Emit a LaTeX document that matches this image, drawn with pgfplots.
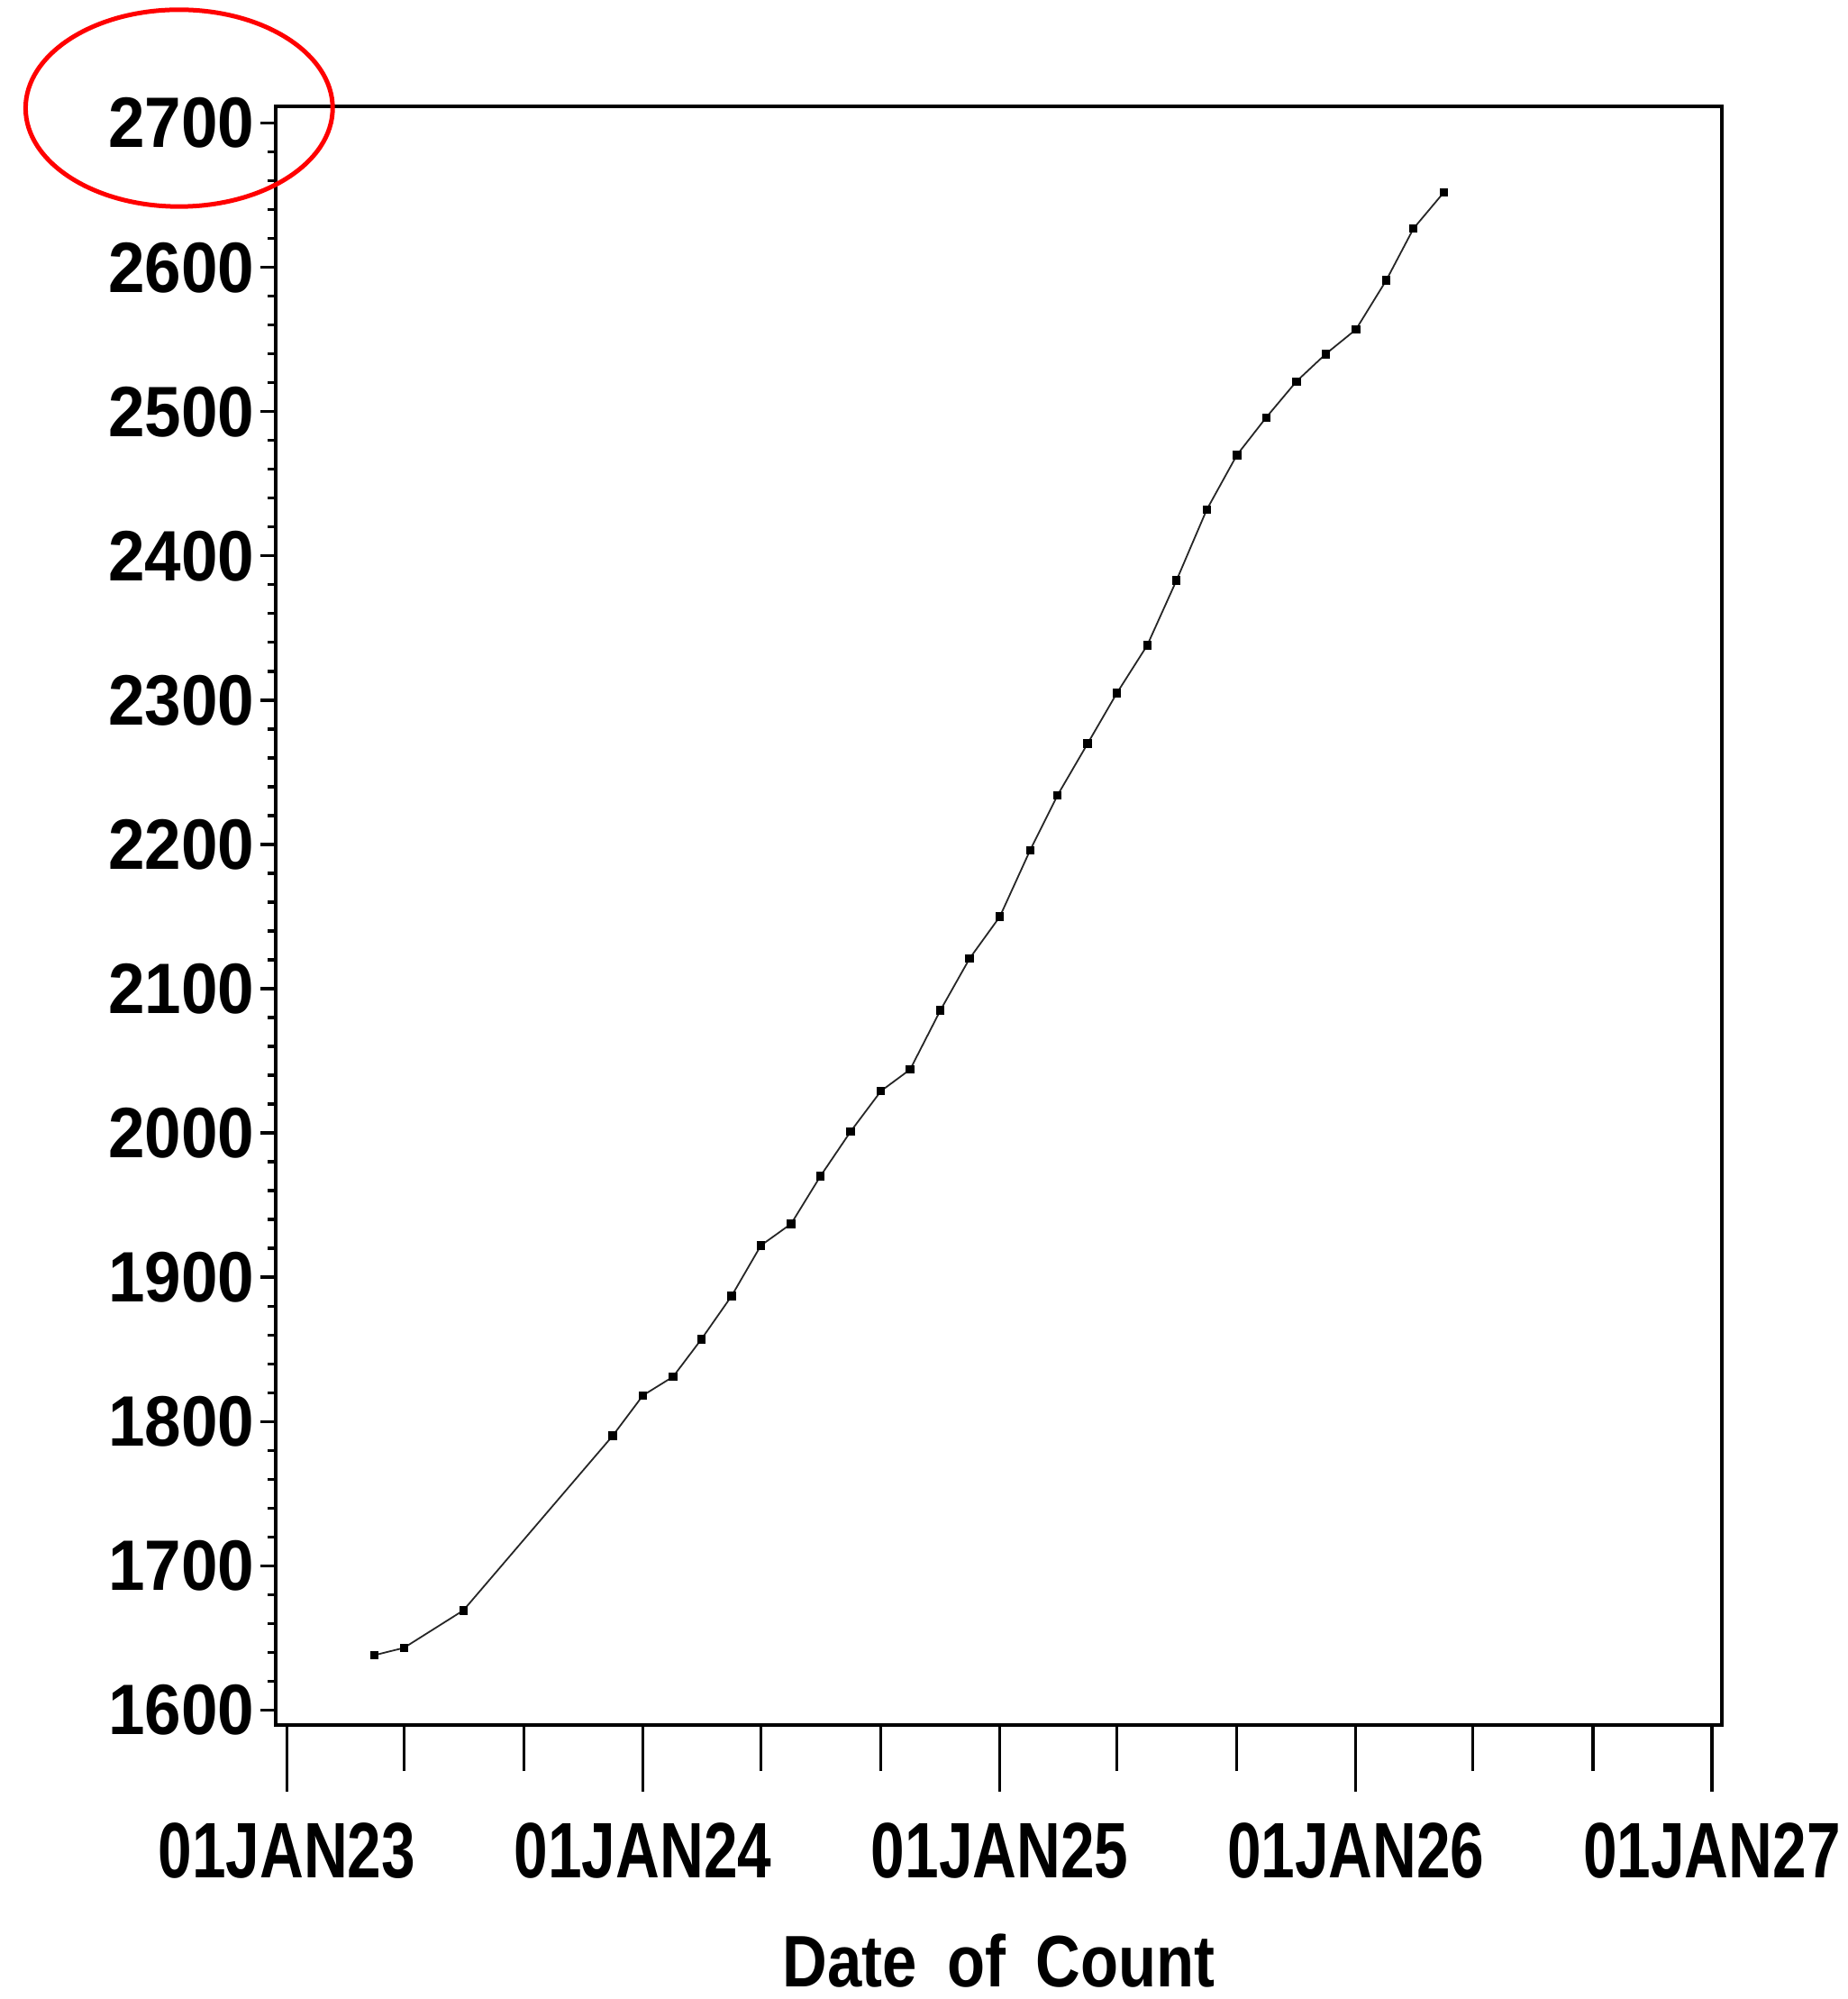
\documentclass[border=0pt]{standalone}
\usepackage{pgfplots}
\pgfplotsset{compat=1.18}
\usepackage{fontspec}
\setmainfont{Liberation Sans}
\newfontfamily\yfont[FakeStretch=0.92]{Liberation Sans}
\newfontfamily\xfont[FakeStretch=0.775]{Liberation Sans}
\newfontfamily\lfont[FakeStretch=0.85]{Liberation Sans}
\pgfplotsset{
  base/.style={
    at={(0,0)}, anchor=south west, scale only axis,
    width=401.35pt, height=449.125pt,
    xmin=-11.4, xmax=1471.5, ymin=1589.4, ymax=2711.9,
    axis line style={line width=1pt, black},
    tick style={line width=0.8pt, black},
    tick align=outside, tick pos=left,
  }
}
\begin{document}
\begin{tikzpicture}
\path[use as bounding box] (-76.5pt,-75.95pt) rectangle (436pt,478.55pt);
% days since 01JAN2023
\begin{axis}[base,
  xtick=\empty,
  ytick={1600,1700,1800,1900,2000,2100,2200,2300,2400,2500,2600,2700},
  yticklabels={1600,1700,1800,1900,2000,2100,2200,2300,2400,2500,2600,2700},
  minor y tick num=4,
  major tick length=4.3pt, minor tick length=2.3pt,
  yticklabel style={font={\yfont\bfseries\fontsize{19.8pt}{20pt}\selectfont}, anchor=east, inner sep=0pt, xshift=-1.4pt},
]
\addplot[black!85, line width=0.45pt, mark=square*, mark size=0.95pt, mark options={black}] coordinates {
(90,1638) (120,1643) (181,1669) (334,1790)
(365,1818) (396,1831) (425,1857) (456,1887) (486,1922) (517,1937)
(547,1970) (578,2001) (609,2029) (639,2044) (670,2085) (700,2121)
(731,2150) (762,2196) (790,2234) (821,2270) (851,2305) (882,2338)
(912,2383) (943,2432) (974,2470) (1004,2496) (1035,2521) (1065,2540)
(1096,2557) (1127,2591) (1155,2627) (1186,2652)
};
\end{axis}
\begin{axis}[base,
  ytick=\empty,
  xtick={0,365,731,1096,1461},
  xticklabels={01JAN23,01JAN24,01JAN25,01JAN26,01JAN27},
  minor xtick={120,243,486,609,851,974,1216,1339},
  major tick length=18.5pt, minor tick length=12.75pt,
  xticklabel style={font={\xfont\bfseries\fontsize{21.8pt}{22pt}\selectfont}, anchor=north, inner sep=0pt, yshift=-8.3pt},
  xlabel={Date\hspace{8.3pt}of\hspace{8.3pt}Count},
  xlabel style={font={\lfont\bfseries\fontsize{20.25pt}{21pt}\selectfont}, at={(axis description cs:0.5,0)}, anchor=north, inner sep=0pt, yshift=-57.6pt},
]
\end{axis}
\draw[red, line width=1.25pt] (-26.8pt,448.55pt) ellipse [x radius=42.6pt, y radius=27.3pt];
\end{tikzpicture}
\end{document}
